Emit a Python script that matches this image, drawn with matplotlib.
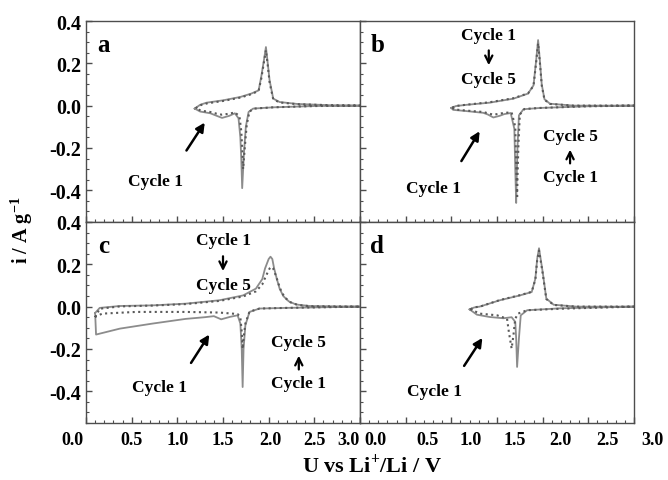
import matplotlib
matplotlib.use("Agg")
import matplotlib.pyplot as plt
from matplotlib.ticker import MultipleLocator
from matplotlib.transforms import ScaledTranslation

# ---- data (potential U in V, current i in A/g) ----
# panel a
A_C1_U = [1.19, 1.25, 1.32, 1.50, 1.69, 1.81, 1.89, 1.92, 1.95, 1.97, 1.99, 2.01, 2.05, 2.12, 2.31, 2.67, 3.00,
          2.50, 2.05, 1.83, 1.78, 1.75, 1.73, 1.71, 1.70, 1.69, 1.67, 1.63, 1.57, 1.49, 1.43, 1.36, 1.25, 1.19]
A_C1_I = [-0.014, 0.004, 0.014, 0.025, 0.041, 0.057, 0.072, 0.140, 0.220, 0.277, 0.200, 0.120, 0.033, 0.017, 0.008, 0.002, 0.0,
          -0.002, -0.008, -0.014, -0.030, -0.100, -0.220, -0.390, -0.250, -0.150, -0.060, -0.036, -0.048, -0.058, -0.048, -0.036, -0.028, -0.014]
A_C5_U = [1.20, 1.26, 1.33, 1.50, 1.69, 1.81, 1.89, 1.92, 1.95, 1.97, 1.99, 2.01, 2.05, 2.12, 2.31, 2.67, 3.00,
          2.50, 2.05, 1.84, 1.79, 1.76, 1.74, 1.72, 1.71, 1.70, 1.68, 1.63, 1.57, 1.49, 1.43, 1.36, 1.26, 1.20]
A_C5_I = [-0.012, 0.003, 0.011, 0.022, 0.038, 0.054, 0.070, 0.130, 0.210, 0.262, 0.190, 0.110, 0.030, 0.015, 0.007, 0.002, 0.0,
          -0.002, -0.008, -0.014, -0.028, -0.090, -0.190, -0.300, -0.200, -0.120, -0.050, -0.032, -0.038, -0.043, -0.038, -0.030, -0.024, -0.012]

# panel b
B_C1_U = [1.00, 1.05, 1.17, 1.42, 1.68, 1.84, 1.90, 1.93, 1.95, 1.97, 1.99, 2.02, 2.08, 2.34, 3.00,
          2.50, 1.97, 1.79, 1.74, 1.725, 1.715, 1.71, 1.70, 1.69, 1.65, 1.58, 1.53, 1.46, 1.40, 1.35, 1.17, 1.02, 1.00]
B_C1_I = [-0.011, -0.002, 0.004, 0.014, 0.033, 0.057, 0.096, 0.220, 0.310, 0.210, 0.100, 0.030, 0.009, 0.0, 0.0,
          -0.003, -0.011, -0.017, -0.046, -0.190, -0.350, -0.460, -0.300, -0.110, -0.035, -0.040, -0.048, -0.056, -0.042, -0.034, -0.026, -0.020, -0.011]
B_C5_U = [1.01, 1.06, 1.18, 1.42, 1.68, 1.84, 1.90, 1.93, 1.95, 1.97, 1.99, 2.02, 2.08, 2.34, 3.00,
          2.50, 1.97, 1.80, 1.75, 1.735, 1.725, 1.72, 1.71, 1.70, 1.66, 1.58, 1.53, 1.46, 1.40, 1.35, 1.18, 1.03, 1.01]
B_C5_I = [-0.009, -0.001, 0.005, 0.016, 0.035, 0.058, 0.094, 0.210, 0.295, 0.200, 0.095, 0.028, 0.008, 0.0, 0.0,
          -0.003, -0.011, -0.016, -0.042, -0.180, -0.330, -0.440, -0.280, -0.100, -0.032, -0.034, -0.038, -0.043, -0.036, -0.030, -0.024, -0.018, -0.009]

# panel c
C_C1_U = [0.10, 0.15, 0.37, 0.73, 1.09, 1.46, 1.72, 1.86, 1.93, 1.96, 2.00, 2.02, 2.04, 2.06, 2.09, 2.12, 2.16, 2.22, 2.30, 2.45, 3.00,
          2.19, 1.90, 1.79, 1.745, 1.725, 1.715, 1.705, 1.69, 1.66, 1.58, 1.48, 1.40, 1.30, 1.09, 0.73, 0.37, 0.11, 0.10]
C_C1_I = [-0.030, -0.006, 0.003, 0.006, 0.014, 0.030, 0.053, 0.085, 0.130, 0.180, 0.225, 0.236, 0.225, 0.180, 0.130, 0.085, 0.050, 0.025, 0.010, 0.003, 0.0,
          -0.006, -0.009, -0.025, -0.088, -0.200, -0.380, -0.200, -0.080, -0.041, -0.048, -0.060, -0.045, -0.050, -0.058, -0.080, -0.104, -0.132, -0.030]
C_C5_U = [0.10, 0.15, 0.37, 0.73, 1.09, 1.46, 1.72, 1.86, 1.93, 1.97, 2.01, 2.03, 2.05, 2.08, 2.11, 2.14, 2.18, 2.24, 2.32, 2.45, 3.00,
          2.19, 1.90, 1.79, 1.745, 1.725, 1.715, 1.705, 1.69, 1.66, 1.46, 1.09, 0.55, 0.18, 0.11, 0.10]
C_C5_I = [-0.050, -0.010, 0.001, 0.005, 0.012, 0.027, 0.048, 0.072, 0.105, 0.145, 0.180, 0.188, 0.180, 0.145, 0.105, 0.070, 0.042, 0.020, 0.008, 0.002, 0.0,
          -0.006, -0.009, -0.024, -0.080, -0.150, -0.200, -0.120, -0.050, -0.035, -0.028, -0.025, -0.025, -0.033, -0.045, -0.050]

# panel d
D_C1_U = [1.20, 1.25, 1.31, 1.53, 1.75, 1.88, 1.92, 1.94, 1.96, 1.98, 2.00, 2.04, 2.12, 2.37, 3.00,
          2.19, 1.83, 1.76, 1.74, 1.72, 1.71, 1.70, 1.66, 1.57, 1.42, 1.28, 1.20]
D_C1_I = [-0.013, -0.004, 0.0, 0.030, 0.053, 0.069, 0.132, 0.226, 0.276, 0.220, 0.164, 0.038, 0.009, 0.0, 0.0,
          -0.008, -0.017, -0.041, -0.151, -0.285, -0.151, -0.072, -0.050, -0.055, -0.049, -0.038, -0.013]
D_C5_U = [1.21, 1.26, 1.32, 1.53, 1.75, 1.88, 1.92, 1.94, 1.96, 1.98, 2.00, 2.04, 2.12, 2.37, 3.00,
          2.19, 1.83, 1.73, 1.70, 1.68, 1.66, 1.63, 1.61, 1.50, 1.31, 1.21]
D_C5_I = [-0.012, -0.003, 0.001, 0.031, 0.054, 0.070, 0.128, 0.220, 0.265, 0.212, 0.158, 0.036, 0.008, 0.0, 0.0,
          -0.010, -0.017, -0.033, -0.057, -0.135, -0.198, -0.120, -0.057, -0.041, -0.033, -0.012]

PANELS = ["a", "b", "c", "d"]
X_TICKS = [0.0, 0.5, 1.0, 1.5, 2.0, 2.5, 3.0]
Y_TICKS = [-0.4, -0.2, 0.0, 0.2, 0.4]

plt.rcParams["font.family"] = ["Liberation Serif", "DejaVu Serif"]
plt.rcParams["font.weight"] = "bold"
plt.rcParams["mathtext.fontset"] = "custom"
plt.rcParams["mathtext.rm"] = "Liberation Serif:bold"
plt.rcParams["mathtext.bf"] = "Liberation Serif:bold"

W, H = 668, 481
fig = plt.figure(figsize=(W / 100, H / 100), dpi=100)

# axes boxes in pixels of the reference: (left, top) corner, size 274 x 201
boxes = {"a": (86, 22), "b": (360, 22), "c": (86, 223), "d": (360, 223)}
data = {
    "a": (A_C1_U, A_C1_I, A_C5_U, A_C5_I),
    "b": (B_C1_U, B_C1_I, B_C5_U, B_C5_I),
    "c": (C_C1_U, C_C1_I, C_C5_U, C_C5_I),
    "d": (D_C1_U, D_C1_I, D_C5_U, D_C5_I),
}
axes = {}
for p in PANELS:
    x0, y0 = boxes[p]
    ax = fig.add_axes([x0 / W, 1 - (y0 + 201) / H, 274 / W, 201 / H])
    u1, i1, u5, i5 = data[p]
    ax.plot(u1, i1, "-", color="0.55", lw=1.3)
    ax.plot(u5, i5, ":", color="0.35", lw=1.5)
    ax.set_xlim(0, 3.0)
    ax.set_ylim(-0.55, 0.4)
    ax.set_xticks(X_TICKS)
    ax.set_yticks(Y_TICKS)
    ax.xaxis.set_minor_locator(MultipleLocator(0.1))
    ax.yaxis.set_minor_locator(MultipleLocator(0.05))
    ax.tick_params(which="both", direction="in", top=False, right=False, color="0.3")
    ax.tick_params(which="major", length=4, width=1, labelsize=14.5)
    ax.tick_params(which="minor", length=2, width=0.8)
    ax.tick_params(axis="x", labelsize=13, pad=6)
    for s in ax.spines.values():
        s.set_color("0.3")
        s.set_linewidth(1.0)
    ax.text(0.19, 0.29, p, fontsize=18, fontweight="bold", ha="center", va="center")
    axes[p] = ax

axes["a"].tick_params(labelbottom=False)
axes["b"].tick_params(labelbottom=False, labelleft=False)
axes["d"].tick_params(labelleft=False)
axes["c"].set_yticklabels([f"{v:.1f}" for v in Y_TICKS])
axes["a"].set_yticklabels([f"{v:.1f}" for v in Y_TICKS])

# tick labels in the reference sit a little off their ticks
shift_c = [-14, 0, 0, 0, 2, 0, -12]
shift_d = [15, 22, 19, 18, 18, 19, 18]
for ax, shifts in ((axes["c"], shift_c), (axes["d"], shift_d)):
    ax.set_xticklabels([f"{v:.1f}" for v in X_TICKS])
    for tick, dx in zip(ax.xaxis.get_major_ticks(), shifts):
        tick.label1.set_transform(tick.label1.get_transform()
                                  + ScaledTranslation(dx / 100, 0, fig.dpi_scale_trans))

txt = dict(fontsize=12.5, fontweight="bold", ha="center", va="center")
arrow = dict(arrowstyle="-|>", color="black", lw=1.8, mutation_scale=13, shrinkA=0, shrinkB=0)
small = dict(arrowstyle="->", color="black", lw=1.6, mutation_scale=13, shrinkA=0, shrinkB=0)

# Cycle 1 labels with arrows pointing at the first-cycle hump
for p, (tx, ty), (ax0, ay0), (ax1, ay1) in (
    ("a", (0.76, -0.355), (1.10, -0.212), (1.30, -0.080)),
    ("b", (0.80, -0.390), (1.11, -0.262), (1.31, -0.121)),
    ("c", (0.80, -0.380), (1.15, -0.266), (1.35, -0.132)),
    ("d", (0.82, -0.398), (1.14, -0.280), (1.34, -0.148)),
):
    axes[p].text(tx, ty, "Cycle 1", **txt)
    axes[p].annotate("", xy=(ax1, ay1), xytext=(ax0, ay0), arrowprops=arrow)

# Cycle 1 -> Cycle 5 trends
for p, ux, uy, lx, ly in (("b", 1.41, 0.336, 2.30, -0.143), ("c", 1.50, 0.313, 2.33, -0.167)):
    ax = axes[p]
    ax.text(ux, uy, "Cycle 1", **txt)
    ax.annotate("", xy=(ux, uy - 0.145), xytext=(ux, uy - 0.075), arrowprops=small)
    ax.text(ux, uy - 0.21, "Cycle 5", **txt)
    ax.text(lx, ly, "Cycle 5", **txt)
    ax.annotate("", xy=(lx, ly - 0.065), xytext=(lx, ly - 0.13), arrowprops=small)
    ax.text(lx, ly - 0.195, "Cycle 1", **txt)

fig.text(22 / W, 1 - 230 / H, "i / A g$^{-1}$", rotation=90, fontsize=14.5,
         fontweight="bold", ha="center", va="center")
fig.text(372 / W, 1 - 465 / H, "U vs Li$^{+}$/Li / V", fontsize=16,
         fontweight="bold", ha="center", va="center")

fig.savefig("out.png", dpi=100)
